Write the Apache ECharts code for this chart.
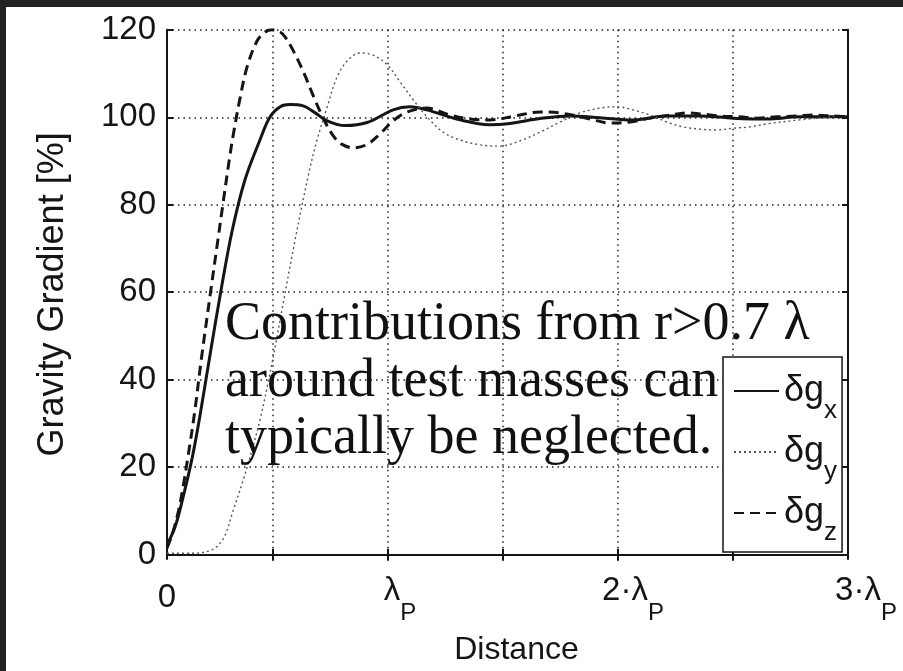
<!DOCTYPE html>
<html>
<head>
<meta charset="utf-8">
<script src="https://cdn.jsdelivr.net/npm/echarts@6/dist/echarts.min.js"></script>
<style>
  html, body { margin: 0; padding: 0; width: 903px; height: 671px; overflow: hidden; background: #232323; }
  #chart { position: absolute; left: 6px; top: 7px; width: 897px; height: 664px; background: #fff; }
</style>
</head>
<body>
<div id="chart"></div>
<script>
// Distance in units of lambda_P, gradient in percent.
const gxDist = [0.04, 0.076, 0.107, 0.149, 0.184, 0.228, 0.275, 0.323, 0.379, 0.444, 0.488, 0.532, 0.575, 0.632, 0.684, 0.736, 0.814, 0.91, 1.023, 1.096, 1.17, 1.314, 1.444, 1.531, 1.661, 1.791, 1.922, 2.065, 2.213, 2.356, 2.5, 2.648, 2.791, 3.0];
const gxVal  = [2.2, 6.5, 12.5, 22.0, 32.0, 46.0, 60.5, 74.0, 85.7, 94.8, 100.1, 102.4, 102.9, 102.6, 101.0, 99.2, 98.1, 98.8, 101.7, 102.4, 101.7, 99.4, 98.3, 98.6, 99.7, 100.3, 99.9, 99.4, 100.3, 100.3, 99.8, 99.6, 100.1, 100.1];

const gyDist = [0.04, 0.15, 0.22, 0.26, 0.293, 0.327, 0.371, 0.41, 0.445, 0.48, 0.51, 0.545, 0.597, 0.653, 0.692, 0.736, 0.779, 0.827, 0.879, 0.936, 0.997, 1.053, 1.11, 1.17, 1.24, 1.314, 1.4, 1.487, 1.574, 1.661, 1.748, 1.835, 1.922, 1.996, 2.065, 2.139, 2.213, 2.283, 2.356, 2.43, 2.5, 2.574, 2.648, 2.791, 2.934, 3.0];
const gyVal  = [0.3, 0.3, 0.8, 2.0, 4.5, 10.0, 17.0, 24.0, 31.0, 39.5, 47.5, 57.5, 72.0, 86.4, 94.8, 102.3, 109.2, 113.1, 114.7, 114.2, 112.0, 108.1, 104.0, 100.1, 96.6, 94.8, 93.7, 93.4, 94.6, 96.6, 98.9, 101.0, 102.1, 102.4, 101.7, 100.5, 98.9, 97.8, 97.3, 97.1, 97.5, 97.8, 98.5, 99.4, 100.1, 100.3];

const gzDist = [0.04, 0.065, 0.09, 0.11, 0.133, 0.16, 0.19, 0.228, 0.26, 0.284, 0.31, 0.328, 0.358, 0.388, 0.432, 0.467, 0.497, 0.532, 0.554, 0.588, 0.632, 0.675, 0.719, 0.762, 0.801, 0.849, 0.91, 0.966, 1.023, 1.083, 1.17, 1.27, 1.357, 1.444, 1.553, 1.661, 1.748, 1.878, 1.965, 2.052, 2.139, 2.227, 2.3, 2.37, 2.444, 2.53, 2.604, 2.691, 2.778, 2.847, 2.934, 3.0];
const gzVal  = [1.5, 5.0, 10.0, 15.5, 23.0, 32.5, 45.0, 59.5, 71.5, 80.5, 90.0, 96.0, 104.5, 111.5, 117.5, 119.5, 120.0, 119.5, 118.3, 115.3, 110.5, 105.0, 99.8, 95.8, 93.8, 93.0, 93.8, 96.2, 99.2, 101.2, 102.1, 100.5, 99.6, 99.4, 100.3, 101.2, 101.0, 99.6, 98.7, 98.9, 99.8, 100.5, 101.0, 100.7, 100.3, 100.1, 99.8, 100.1, 100.3, 100.5, 100.3, 100.1];

const legendMain = 'δg';
const legendSubs = ['x', 'y', 'z'];
const yTicks = [0, 20, 40, 60, 80, 100, 120];
const xGridTicks = [0.5, 1, 1.5, 2, 2.5];
const xTickMain = ['0', 'λ', '2·λ', '3·λ'];
const xTickSub = ['', 'P', 'P', 'P'];
const noteLines = ['Contributions from r>0.7 λ', 'around test masses can', 'typically be neglected.'];

const ink = '#151515';
const sans = 'Liberation Sans, Arial, Helvetica, sans-serif';
const pairs = (xs, ys) => xs.map((x, i) => [x, ys[i]]);

const gridBox = { left: 161, top: 22.8, height: 529.2 };
const dotted = { color: '#222', width: 1.5, type: [1.5, 4] };
const frameLine = { show: true, lineStyle: { color: ink, width: 2 } };
const innerTick = (values) => ({ show: true, inside: true, length: 6, customValues: values, lineStyle: { color: ink, width: 2 } });

const chart = echarts.init(document.getElementById('chart'), null, { renderer: 'canvas' });

chart.setOption({
  animation: false,
  backgroundColor: '#fff',
  grid: [
    { left: gridBox.left, top: gridBox.top, width: 681, height: gridBox.height, containLabel: false },
    { left: gridBox.left, top: gridBox.top, width: 699, height: gridBox.height, containLabel: false }
  ],
  xAxis: [
    { type: 'value', gridIndex: 0, position: 'bottom', min: 0.04, max: 3,
      axisLine: frameLine, axisTick: innerTick(xGridTicks),
      axisLabel: { show: false, customValues: xGridTicks },
      splitLine: { show: true, lineStyle: dotted } },
    { type: 'value', gridIndex: 0, position: 'top', min: 0.04, max: 3,
      axisLine: frameLine, axisTick: innerTick(xGridTicks),
      axisLabel: { show: false }, splitLine: { show: false } },
    { type: 'value', gridIndex: 1, position: 'bottom', min: 0, max: 3, interval: 1,
      axisLine: { show: false }, axisTick: { show: false }, splitLine: { show: false },
      axisLabel: {
        show: true, margin: 14, color: ink,
        formatter: (v) => {
          const i = Math.round(v);
          return xTickSub[i] ? `{m|${xTickMain[i]}}{s|${xTickSub[i]}}` : `{z|${xTickMain[i]}}`;
        },
        rich: {
          m: { fontFamily: sans, fontSize: 33, lineHeight: 46, color: ink },
          z: { fontFamily: sans, fontSize: 33, lineHeight: 59, color: ink },
          s: { fontFamily: sans, fontSize: 24, color: ink, padding: [28, 0, -16, 0] }
        }
      },
      name: 'Distance', nameLocation: 'middle', nameGap: 80,
      nameTextStyle: { fontFamily: sans, fontSize: 32, color: ink } }
  ],
  yAxis: [
    { type: 'value', gridIndex: 0, position: 'left', min: -1, max: 120,
      axisLine: frameLine, axisTick: innerTick(yTicks),
      axisLabel: { show: true, customValues: yTicks, margin: 11, fontFamily: sans, fontSize: 33, color: ink },
      splitLine: { show: true, lineStyle: dotted },
      name: 'Gravity Gradient [%]', nameLocation: 'middle', nameRotate: 90, nameGap: 96,
      nameTextStyle: { fontFamily: sans, fontSize: 36, color: ink } },
    { type: 'value', gridIndex: 0, position: 'right', min: -1, max: 120,
      axisLine: frameLine, axisTick: innerTick(yTicks),
      axisLabel: { show: false }, splitLine: { show: false } },
    { type: 'value', gridIndex: 1, min: 0, max: 1, show: false }
  ],
  legend: {
    orient: 'vertical', left: 717, top: 350,
    backgroundColor: '#fff', borderColor: ink, borderWidth: 1.5,
    padding: [16, 5, 6, 10], itemGap: 10, itemWidth: 45, itemHeight: 16,
    itemStyle: { color: 'transparent', borderWidth: 0, opacity: 0 },
    formatter: (name) => `{a|${legendMain}}{b|${name.slice(legendMain.length)}}`,
    textStyle: {
      rich: {
        a: { fontFamily: sans, fontSize: 36, lineHeight: 44, color: ink },
        b: { fontFamily: sans, fontSize: 26, color: ink, padding: [26, 0, -14, 0] }
      }
    }
  },
  graphic: [{
    type: 'text', left: 219, top: 289, z: 50,
    style: {
      text: noteLines.join('\n'),
      font: '54px "Liberation Serif", "Times New Roman", serif',
      lineHeight: 57, fill: '#111'
    }
  }],
  series: [
    { name: legendMain + legendSubs[0], type: 'line', xAxisIndex: 0, yAxisIndex: 0,
      data: pairs(gxDist, gxVal), smooth: 0.35, symbol: 'none',
      lineStyle: { color: ink, width: 3, type: 'solid' }, itemStyle: { color: 'transparent' } },
    { name: legendMain + legendSubs[1], type: 'line', xAxisIndex: 0, yAxisIndex: 0,
      data: pairs(gyDist, gyVal), smooth: 0.35, symbol: 'none',
      lineStyle: { color: '#555', width: 1.4, type: [2, 3] }, itemStyle: { color: 'transparent' } },
    { name: legendMain + legendSubs[2], type: 'line', xAxisIndex: 0, yAxisIndex: 0,
      data: pairs(gzDist, gzVal), smooth: 0.35, symbol: 'none',
      lineStyle: { color: ink, width: 3, type: [10, 6] }, itemStyle: { color: 'transparent' } }
  ]
});
</script>
</body>
</html>
